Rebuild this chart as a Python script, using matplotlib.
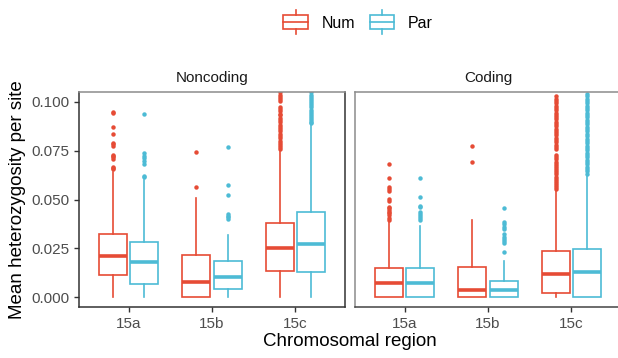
import numpy as np
import matplotlib
matplotlib.use('Agg')
from matplotlib import pyplot as plt
from matplotlib.patches import Rectangle, Patch
from matplotlib.lines import Line2D
from matplotlib.legend_handler import HandlerBase

plt.rcParams['font.family'] = ['Liberation Sans', 'DejaVu Sans']

NUM_COLOR = '#E64B35'
PAR_COLOR = '#4DBBD5'

regions = ['15a', '15b', '15c']
panels = ['Noncoding', 'Coding']
groups = ['Num', 'Par']

# whisker low, q1, median, q3, whisker high  (one row per region)
noncoding_num = [[0.0, 0.0114, 0.0213, 0.0323, 0.0639],
                 [0.0, 0.0, 0.0080, 0.0217, 0.0508],
                 [0.0, 0.0135, 0.0254, 0.0381, 0.0750]]
noncoding_par = [[0.0, 0.0070, 0.0178, 0.0285, 0.0602],
                 [0.0, 0.0044, 0.0104, 0.0186, 0.0320],
                 [0.0, 0.0131, 0.0272, 0.0434, 0.0887]]
coding_num = [[0.0, 0.0, 0.0075, 0.0152, 0.0383],
              [0.0, 0.0, 0.0036, 0.0155, 0.0395],
              [0.0, 0.0020, 0.0118, 0.0234, 0.0545]]
coding_par = [[0.0, 0.0, 0.0071, 0.0149, 0.0362],
              [0.0, 0.0, 0.0037, 0.0084, 0.0186],
              [0.0, 0.0, 0.0130, 0.0249, 0.0631]]

noncoding_num_out = [
    [0.0950, 0.0942, 0.0869, 0.0833, 0.0790, 0.0783, 0.0775, 0.0730, 0.0722,
     0.0715, 0.0705, 0.0667, 0.0660, 0.0655],
    [0.0744, 0.0562],
    [0.1060, 0.1048, 0.1036, 0.1024, 0.1012, 0.1002, 0.0975, 0.0963, 0.0951,
     0.0940, 0.0930, 0.0918, 0.0906, 0.0894, 0.0882, 0.0871, 0.0860, 0.0848,
     0.0836, 0.0825, 0.0813, 0.0801, 0.0790, 0.0779, 0.0768, 0.0758]]
noncoding_par_out = [
    [0.0938, 0.0736, 0.0724, 0.0710, 0.0698, 0.0684, 0.0622, 0.0614],
    [0.0769, 0.0574, 0.0524, 0.0426, 0.0418, 0.0410, 0.0399],
    [0.1060, 0.1048, 0.1037, 0.1026, 0.1015, 0.1004, 0.0993, 0.0982, 0.0971,
     0.0960, 0.0949, 0.0938, 0.0927, 0.0916, 0.0905, 0.0894, 0.0890]]
coding_num_out = [
    [0.0682, 0.0611, 0.0566, 0.0554, 0.0542, 0.0502, 0.0494, 0.0462, 0.0454,
     0.0446, 0.0437, 0.0429, 0.0420, 0.0407, 0.0396],
    [0.0772, 0.0694],
    [0.1027, 0.1015, 0.1003, 0.0992, 0.0980, 0.0968, 0.0956, 0.0945, 0.0933,
     0.0921, 0.0910, 0.0898, 0.0886, 0.0875, 0.0863, 0.0851, 0.0840, 0.0828,
     0.0816, 0.0805, 0.0793, 0.0781, 0.0770, 0.0758, 0.0728, 0.0716, 0.0705,
     0.0694, 0.0683, 0.0672, 0.0661, 0.0650, 0.0639, 0.0628, 0.0617, 0.0606,
     0.0595, 0.0584, 0.0573, 0.0562, 0.0552]]
coding_par_out = [
    [0.1080, 0.0608, 0.0514, 0.0468, 0.0460, 0.0434, 0.0426, 0.0418, 0.0406,
     0.0394],
    [0.0454, 0.0387, 0.0373, 0.0361, 0.0347, 0.0322, 0.0310, 0.0298, 0.0286,
     0.0276, 0.0229],
    [0.1040, 0.1028, 0.1016, 0.1004, 0.0992, 0.0980, 0.0968, 0.0956, 0.0944,
     0.0932, 0.0920, 0.0908, 0.0896, 0.0884, 0.0872, 0.0860, 0.0848, 0.0836,
     0.0824, 0.0812, 0.0800, 0.0788, 0.0776, 0.0764, 0.0752, 0.0740, 0.0728,
     0.0716, 0.0704, 0.0692, 0.0680, 0.0668, 0.0656, 0.0644, 0.0632]]

panel_data = {
    'Noncoding': [(noncoding_num, noncoding_num_out), (noncoding_par, noncoding_par_out)],
    'Coding': [(coding_num, coding_num_out), (coding_par, coding_par_out)],
}
colors = [NUM_COLOR, PAR_COLOR]


def make_stats(rows, outs):
    stats = []
    for r, o in zip(rows, outs):
        stats.append(dict(whislo=r[0], q1=r[1], med=r[2], q3=r[3], whishi=r[4],
                          fliers=np.array(o)))
    return stats


class BoxHandler(HandlerBase):
    def create_artists(self, legend, orig_handle, xdescent, ydescent, width,
                       height, fontsize, trans):
        c = orig_handle.get_edgecolor()
        x0, y0 = -xdescent, -ydescent
        box = Rectangle((x0, y0), width, height, fc='white', ec=c, lw=1.2,
                        transform=trans)
        med = Line2D([x0, x0 + width], [y0 + height / 2] * 2, color=c, lw=1.2,
                     transform=trans)
        w1 = Line2D([x0 + width / 2] * 2, [y0 + height, y0 + height * 1.35],
                    color=c, lw=1.2, transform=trans)
        w2 = Line2D([x0 + width / 2] * 2, [y0, y0 - height * 0.35], color=c,
                    lw=1.2, transform=trans)
        return [box, med, w1, w2]


fig = plt.figure(figsize=(6.18, 3.58), dpi=100)
W, H = 618, 358
ax1 = fig.add_axes([79 / W, (H - 307) / H, 266 / W, 215 / H])
ax2 = fig.add_axes([355 / W, (H - 307) / H, 266 / W, 215 / H])

pos = np.arange(1, len(regions) + 1)
offset = 0.1875
bw = 0.3375

for ax, name in zip([ax1, ax2], panels):
    for k, (rows, outs) in enumerate(panel_data[name]):
        c = colors[k]
        stats = make_stats(rows, outs)
        ax.bxp(stats, positions=pos + (k - 0.5) * 2 * offset, widths=bw,
               showcaps=False, showfliers=True, patch_artist=True,
               boxprops=dict(facecolor='white', edgecolor=c, linewidth=1.2),
               medianprops=dict(color=c, linewidth=2.6, solid_capstyle='butt'),
               whiskerprops=dict(color=c, linewidth=1.2),
               flierprops=dict(marker='o', markersize=3.2, markerfacecolor=c,
                               markeredgecolor='none', linestyle='none'),
               manage_ticks=False)
    ax.set_xlim(0.4, 3.6)
    ax.set_ylim(-0.005, 0.105)
    ax.set_xticks(pos)
    ax.set_xticklabels(regions)
    ax.set_title(name, fontsize=11, pad=7, color='#1a1a1a')
    ax.tick_params(axis='both', colors='#333333', labelcolor='#4D4D4D',
                   labelsize=11, length=3.5, width=1.0)
    for s in ax.spines.values():
        s.set_linewidth(1.1)

ax1.set_yticks([0.0, 0.025, 0.05, 0.075, 0.1])
ax1.set_yticklabels(['0.000', '0.025', '0.050', '0.075', '0.100'])
ax2.set_yticks([])
ax1.spines['left'].set_color('#333333')
ax1.spines['bottom'].set_color('#333333')
ax1.spines['right'].set_color('#333333')
ax1.spines['top'].set_color('#8c8c8c')
ax2.spines['left'].set_color('#8c8c8c')
ax2.spines['top'].set_color('#8c8c8c')
ax2.spines['bottom'].set_color('#444444')
ax2.spines['right'].set_visible(False)

ax1.set_ylabel('Mean heterozygosity per site', fontsize=13.5, labelpad=4)
fig.text(350 / W, 1 - 342 / H, 'Chromosomal region', fontsize=13.5,
         ha='center', va='center')

handles = [Patch(facecolor='white', edgecolor=c) for c in colors]
fig.legend(handles, groups, loc='upper center', bbox_to_anchor=(358 / W, 1.0),
           ncol=2, frameon=False, fontsize=11.5, handlelength=1.55,
           handleheight=1.0, columnspacing=0.9, handletextpad=0.85,
           borderpad=0.45, handler_map={Patch: BoxHandler()})

fig.savefig('out.png', dpi=100)
